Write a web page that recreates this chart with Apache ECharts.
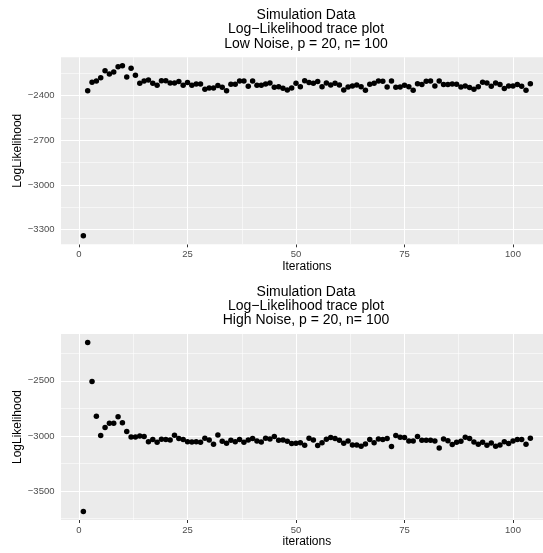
<!DOCTYPE html>
<html><head><meta charset="utf-8">
<script src="https://cdn.jsdelivr.net/npm/echarts@6/dist/echarts.min.js"></script>
<style>html,body{margin:0;padding:0;background:#fff}#c{width:543px;height:553px}</style>
</head><body><div id="c"></div><script>
const lowNoise = [-3342,-2367,-2311,-2302,-2280,-2233,-2255,-2242,-2206,-2200,-2275,-2217,-2264,-2317,-2302,-2295,-2317,-2331,-2300,-2300,-2315,-2315,-2306,-2331,-2313,-2331,-2322,-2322,-2358,-2349,-2349,-2333,-2344,-2367,-2324,-2324,-2302,-2302,-2338,-2302,-2331,-2331,-2322,-2315,-2344,-2340,-2351,-2362,-2349,-2317,-2340,-2300,-2313,-2317,-2306,-2340,-2315,-2329,-2317,-2329,-2362,-2342,-2335,-2329,-2340,-2364,-2324,-2317,-2302,-2304,-2342,-2302,-2344,-2342,-2331,-2340,-2364,-2320,-2326,-2304,-2302,-2335,-2302,-2326,-2326,-2322,-2324,-2342,-2335,-2346,-2358,-2340,-2311,-2315,-2338,-2315,-2326,-2353,-2335,-2335,-2326,-2338,-2364,-2320];
const highNoise = [-3687,-2151,-2506,-2821,-2997,-2924,-2884,-2884,-2827,-2881,-2960,-3009,-3009,-3000,-3006,-3052,-3033,-3058,-3030,-3033,-3036,-2994,-3024,-3033,-3052,-3055,-3052,-3058,-3021,-3036,-3076,-2991,-3049,-3067,-3040,-3052,-3033,-3058,-3036,-3024,-3046,-3055,-3021,-3027,-3006,-3040,-3036,-3049,-3070,-3067,-3061,-3085,-3021,-3036,-3088,-3061,-3030,-3015,-3024,-3040,-3067,-3046,-3082,-3082,-3094,-3073,-3033,-3061,-3027,-3033,-3024,-3097,-2997,-3012,-3015,-3046,-3046,-3006,-3040,-3040,-3040,-3046,-3109,-3027,-3043,-3079,-3058,-3049,-3012,-3024,-3055,-3076,-3058,-3085,-3064,-3094,-3082,-3052,-3070,-3046,-3033,-3033,-3076,-3021];
const xMajor = [0,25,50,75,100];
const xMinor = [12.5,37.5,62.5,87.5];
const yMajorTop = [-3300,-3000,-2700,-2400];
const yMinorTop = [-3150,-2850,-2550,-2250];
const yMajorBottom = [-3500,-3000,-2500];
const yMinorBottom = [-3750,-3250,-2750,-2250];
const titlesTop = ['Simulation Data','Log\u2212Likelihood trace plot','Low Noise, p = 20, n= 100'];
const titlesBottom = ['Simulation Data','Log\u2212Likelihood trace plot','High Noise, p = 20, n= 100'];
const xNameTop = 'Iterations';
const xNameBottom = 'iterations';
const yName = 'LogLikelihood';

const FONT = '"Liberation Sans", Arial, Helvetica, sans-serif';
function yExt(arr){const mn=Math.min(...arr),mx=Math.max(...arr),d=(mx-mn)*0.05;return [mn-d,mx+d];}
function xExt(n){const d=(n-1)*0.05;return [1-d,n+d];}
const fmt = v => String(v).replace('-', '\u2212');

const grids = [
  {left:61, top:57.3, height:187, right:-9.7},
  {left:61, top:334, height:186, right:-9.7}
];
const panels = [
  {data: lowNoise, ym: yMajorTop, yn: yMinorTop, xname: xNameTop},
  {data: highNoise, ym: yMajorBottom, yn: yMinorBottom, xname: xNameBottom}
];

const option = {
  animation: false,
  backgroundColor: '#fff',
  grid: grids.map(g => Object.assign({show:true, backgroundColor:'#EBEBEB', borderWidth:0, containLabel:false, outerBoundsMode:'none'}, g)),
  xAxis: panels.map((p,i) => {
    const e = xExt(p.data.length);
    return {
      type:'value', gridIndex:i, min:e[0], max:e[1],
      axisLine:{show:false},
      axisTick:{show:true, customValues:xMajor, length:3, lineStyle:{color:'#333', width:1}},
      axisLabel:{customValues:xMajor, margin:5, fontSize:9.5, color:'#4d4d4d', fontFamily:FONT, formatter:fmt},
      splitLine:{show:false},
      name:p.xname, nameLocation:'middle', nameGap:15,
      nameTextStyle:{fontSize:12, color:'#000', fontFamily:FONT}
    };
  }),
  yAxis: panels.map((p,i) => {
    const e = yExt(p.data);
    return {
      type:'value', gridIndex:i, min:e[0], max:e[1],
      axisLine:{show:false},
      axisTick:{show:true, customValues:p.ym, length:3, lineStyle:{color:'#333', width:1}},
      axisLabel:{customValues:p.ym, margin:6.5, fontSize:9.5, color:'#4d4d4d', fontFamily:FONT, formatter:fmt},
      splitLine:{show:false},
      name:yName, nameLocation:'middle', nameGap:37, nameRotate:90, nameMoveOverlap:false,
      nameTextStyle:{fontSize:12, color:'#000', fontFamily:FONT}
    };
  }),
  series: panels.map((p,i) => ({
    type:'scatter', xAxisIndex:i, yAxisIndex:i, z:3,
    symbol:'circle', symbolSize:5.5,
    itemStyle:{color:'#000', opacity:1},
    silent:true,
    data: p.data.map((v,k) => [k+1, v]),
    markLine:{
      z:1, silent:true, symbol:'none', animation:false,
      label:{show:false},
      emphasis:{disabled:true},
      lineStyle:{color:'#fff', type:'solid'},
      data:[
        ...xMinor.map(v => ({xAxis:v, lineStyle:{width:0.55, color:'#fff', type:'solid'}})),
        ...p.yn.map(v => ({yAxis:v, lineStyle:{width:0.55, color:'#fff', type:'solid'}})),
        ...xMajor.map(v => ({xAxis:v, lineStyle:{width:1.1, color:'#fff', type:'solid'}})),
        ...p.ym.map(v => ({yAxis:v, lineStyle:{width:1.1, color:'#fff', type:'solid'}}))
      ]
    }
  })),
  graphic: [
    ...titlesTop.map((t,k) => ({type:'text', x:306, y:[15,29.5,44][k], style:{text:t, textAlign:'center', textVerticalAlign:'middle', font:'14px ' + FONT, fill:'#000'}})),
    ...titlesBottom.map((t,k) => ({type:'text', x:306, y:[291.7,306,320.5][k], style:{text:t, textAlign:'center', textVerticalAlign:'middle', font:'14px ' + FONT, fill:'#000'}}))
  ]
};
const chart = echarts.init(document.getElementById('c'), null, {renderer:'canvas'});
chart.setOption(option);
</script></body></html>
